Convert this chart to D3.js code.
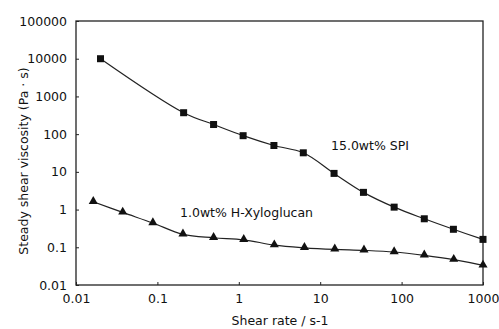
<!DOCTYPE html>
<html>
<head>
<meta charset="utf-8">
<script src="https://cdn.jsdelivr.net/npm/d3@7"></script>
<style>
  body { margin: 0; background: #fff; }
  text { font-family: "DejaVu Sans", sans-serif; fill: #111; }
</style>
</head>
<body>
<svg width="499" height="329"></svg>
<script>
// shear rate (1/s) and viscosity (Pa s)
var spiRate = [0.02, 0.21, 0.49, 1.13, 2.7, 6.2, 14.8, 34, 81, 190, 433, 1000];
var spiVisc = [10000, 370, 180, 91, 50, 32, 9.1, 2.86, 1.16, 0.57, 0.30, 0.162];

var xgRate = [0.0163, 0.0375, 0.088, 0.206, 0.49, 1.15, 2.73, 6.4, 15.1, 34.5, 81, 190, 437, 1000];
var xgVisc = [1.61, 0.84, 0.44, 0.22, 0.179, 0.158, 0.114, 0.097, 0.088, 0.083, 0.075, 0.061, 0.047, 0.033];

var xTicks = [0.01, 0.1, 1, 10, 100, 1000];
var yTicks = [0.01, 0.1, 1, 10, 100, 1000, 10000, 100000];

// plot box ("top" is taken by window.top, hence the names)
var plotL = 76, plotR = 483, plotT = 21, plotB = 285;

var svg = d3.select("svg");

var x = d3.scaleLog().domain([0.01, 1000]).range([plotL, plotR]);
var y = d3.scaleLog().domain([0.01, 100000]).range([plotB, plotT]);

// frame
svg.append("rect")
    .attr("x", plotL).attr("y", plotT)
    .attr("width", plotR - plotL).attr("height", plotB - plotT)
    .attr("fill", "none").attr("stroke", "#222").attr("stroke-width", 1.3);

// axes, ticks pointing inwards
var xAxis = svg.append("g")
    .attr("transform", "translate(0," + plotB + ")")
    .call(d3.axisBottom(x).tickValues(xTicks).tickSizeInner(-3).tickSizeOuter(0)
        .tickPadding(9).tickFormat(function(d) { return String(d); }));
var yAxis = svg.append("g")
    .attr("transform", "translate(" + plotL + ",0)")
    .call(d3.axisLeft(y).tickValues(yTicks).tickSizeInner(-3).tickSizeOuter(0)
        .tickPadding(9).tickFormat(function(d) { return String(d); }));

[xAxis, yAxis].forEach(function(a) {
    a.select(".domain").remove();
    a.selectAll("line").attr("stroke", "#222");
    a.selectAll("text").attr("font-size", 12.5).attr("fill", "#111");
});

var line = d3.line()
    .x(function(d) { return x(d[0]); })
    .y(function(d) { return y(d[1]); })
    .curve(d3.curveCatmullRom.alpha(0.5));

var spi = d3.zip(spiRate, spiVisc);
var xg = d3.zip(xgRate, xgVisc);

svg.append("path").datum(spi).attr("d", line)
    .attr("fill", "none").attr("stroke", "#222").attr("stroke-width", 1.2);
svg.append("path").datum(xg).attr("d", line)
    .attr("fill", "none").attr("stroke", "#222").attr("stroke-width", 1.2);

svg.selectAll(".sq").data(spi).enter().append("rect")
    .attr("class", "sq")
    .attr("x", function(d) { return x(d[0]) - 3.5; })
    .attr("y", function(d) { return y(d[1]) - 3.5; })
    .attr("width", 7).attr("height", 7)
    .attr("fill", "#111");

var tri = d3.symbol().type(d3.symbolTriangle).size(36);
svg.selectAll(".tri").data(xg).enter().append("path")
    .attr("class", "tri")
    .attr("d", tri)
    .attr("transform", function(d) { return "translate(" + x(d[0]) + "," + (y(d[1]) - 0.5) + ")"; })
    .attr("fill", "#111");

// series labels
svg.append("text").attr("x", 331).attr("y", 150)
    .attr("font-size", 12.5).text("15.0wt% SPI");
svg.append("text").attr("x", 180).attr("y", 217)
    .attr("font-size", 12.5).text("1.0wt% H-Xyloglucan");

// axis titles
svg.append("text")
    .attr("x", 280).attr("y", 325)
    .attr("text-anchor", "middle").attr("font-size", 12.5)
    .text("Shear rate / s-1");
svg.append("text")
    .attr("transform", "translate(28,161) rotate(-90)")
    .attr("text-anchor", "middle").attr("font-size", 12.5)
    .text("Steady shear viscosity (Pa \u00b7 s)");
</script>
</body>
</html>
